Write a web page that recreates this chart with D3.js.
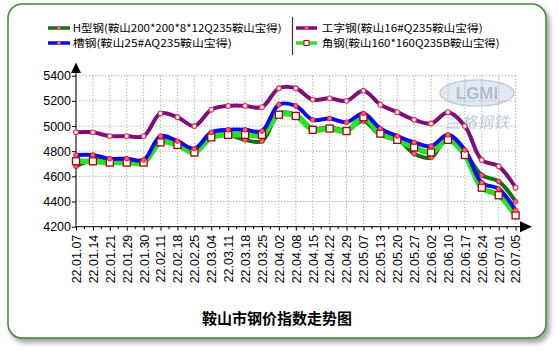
<!DOCTYPE html>
<html>
<head>
<meta charset="utf-8">
<script src="https://cdn.jsdelivr.net/npm/d3@7"></script>
<style>
  body { margin: 0; background: #fff; }
  svg { display: block; }
</style>
</head>
<body>
<svg id="chart"></svg>
<script>
let dates = ["22.01.07","22.01.14","22.01.21","22.01.29","22.01.30","22.02.11","22.02.18","22.02.25",
    "22.03.04","22.03.11","22.03.18","22.03.25","22.04.02","22.04.08","22.04.15","22.04.22","22.04.29",
    "22.05.07","22.05.13","22.05.20","22.05.27","22.06.02","22.06.10","22.06.17","22.06.24","22.07.01","22.07.05"];

// 工字钢
let iBeam = [4950,4950,4920,4920,4920,5100,5070,5000,5130,5160,5160,5150,5300,5300,5210,5220,5200,5280,5170,5110,5050,5020,5110,5000,4730,4680,4510];
// H型钢
let hBeam = [4680,4730,4720,4720,4720,4900,4860,4800,4930,4930,4890,4880,5100,5090,4980,4990,4970,5040,4930,4900,4780,4750,4910,4790,4610,4560,4400];
// 角钢
let angle = [4720,4720,4710,4710,4710,4870,4850,4790,4910,4930,4930,4930,5090,5080,4970,4980,4960,5070,4940,4890,4830,4790,4890,4770,4510,4450,4290];
// 槽钢
let channel = [4770,4770,4740,4740,4730,4920,4880,4820,4950,4970,4970,4960,5170,5160,5050,5060,5030,5100,4980,4920,4870,4840,4930,4810,4550,4500,4330];

let yTicks = [4200,4400,4600,4800,5000,5200,5400];

let w = 558, h = 351;
let svg = d3.select("#chart").attr("width", w).attr("height", h);

let cjk = "'Noto Sans CJK SC', 'Noto Sans', sans-serif";
let latin = "'Liberation Sans', Arial, sans-serif";

// outer frame with shadow
let defs = svg.append("defs");
let f = defs.append("filter").attr("id", "shadow").attr("x", "-5%").attr("y", "-5%").attr("width", "115%").attr("height", "115%");
f.append("feDropShadow").attr("dx", 3).attr("dy", 4).attr("stdDeviation", 2.5)
    .attr("flood-color", "#777").attr("flood-opacity", 0.7);

svg.append("rect")
    .attr("x", 8).attr("y", 4).attr("width", 538).attr("height", 334)
    .attr("rx", 14).attr("ry", 14)
    .attr("fill", "#fff").attr("stroke", "#3d8a34").attr("stroke-width", 1.5)
    .attr("filter", "url(#shadow)");

let x = d3.scalePoint().domain(dates).range([76, 515.6]);
let y = d3.scaleLinear().domain([4200, 5400]).range([226.7, 75.7]);

// watermark
let wm = svg.append("g").attr("opacity", 0.55);
wm.append("ellipse").attr("cx", 477).attr("cy", 93).attr("rx", 37).attr("ry", 13)
    .attr("fill", "#c9d6e8").attr("stroke", "#8fa6c8").attr("stroke-width", 1.5);
wm.append("text").attr("x", 477).attr("y", 99).attr("text-anchor", "middle")
    .attr("font-family", latin).attr("font-weight", "bold").attr("font-size", 17)
    .attr("fill", "#7088ab").text("LGMI");
wm.append("text").attr("x", 477).attr("y", 128).attr("text-anchor", "middle")
    .attr("font-family", cjk).attr("font-size", 16).attr("font-style", "italic")
    .attr("fill", "#8aa0c0").text("兰格钢铁");

// grid
let grid = svg.append("g").attr("stroke", "#a8a8a8").attr("stroke-dasharray", "1.2,2").attr("stroke-width", 1);
grid.selectAll(".v").data(dates).enter().append("line")
    .attr("x1", d => x(d)).attr("x2", d => x(d))
    .attr("y1", y(5400)).attr("y2", y(4200));
grid.selectAll(".hz").data(yTicks).enter().append("line")
    .attr("x1", x.range()[0]).attr("x2", x.range()[1])
    .attr("y1", d => y(d)).attr("y2", d => y(d));

// axes
let yAxis = svg.append("g").attr("transform", "translate(76,0)")
    .call(d3.axisLeft(y).tickValues(yTicks).tickSize(4).tickPadding(1).tickFormat(d3.format("d")));
yAxis.select(".domain").remove();
yAxis.selectAll("text").attr("font-family", latin).attr("font-size", 12.5).attr("fill", "#000");

let xAxis = svg.append("g").attr("transform", "translate(0," + y(4200) + ")")
    .call(d3.axisBottom(x).tickSize(4));
xAxis.select(".domain").remove();
xAxis.selectAll("text")
    .attr("transform", "rotate(-90)")
    .attr("x", -8).attr("y", 0).attr("dy", "0.35em")
    .attr("text-anchor", "end")
    .attr("font-family", latin).attr("font-size", 12.5).attr("fill", "#000");

// minor ticks between dates
let mids = dates.slice(1).map((d, i) => (x(d) + x(dates[i])) / 2);
svg.append("g").selectAll("line").data(mids).enter().append("line")
    .attr("x1", d => d).attr("x2", d => d)
    .attr("y1", y(4200)).attr("y2", y(4200) + 2.5)
    .attr("stroke", "#000");

// axis lines with arrows
svg.append("line").attr("x1", 76).attr("x2", 76).attr("y1", y(4200) + 0.5).attr("y2", 72).attr("stroke", "#000");
svg.append("path").attr("d", "M76,62.5 L71,73 L81,73 Z").attr("fill", "#000");
svg.append("line").attr("x1", 76).attr("x2", 522).attr("y1", y(4200)).attr("y2", y(4200)).attr("stroke", "#000");
svg.append("path").attr("d", "M532," + y(4200) + " L520," + (y(4200) - 5.5) + " L520," + (y(4200) + 5.5) + " Z").attr("fill", "#000");

// lines
let line = d3.line()
    .x((d, i) => x(dates[i]))
    .y(d => y(d))
    .curve(d3.curveCatmullRom.alpha(0.5));

let series = [
    { name: "工字钢(鞍山16#Q235鞍山宝得)", values: iBeam, color: "#7c0f7c", width: 4, marker: "ring" },
    { name: "H型钢(鞍山200*200*8*12Q235鞍山宝得)", values: hBeam, color: "#137313", width: 4, marker: "dot" },
    { name: "角钢(鞍山160*160Q235B鞍山宝得)", values: angle, color: "#22e622", width: 5.5, marker: "square" },
    { name: "槽钢(鞍山25#AQ235鞍山宝得)", values: channel, color: "#0a0aee", width: 4, marker: "dot" }
];

series.forEach(s => {
    svg.append("path")
        .attr("d", line(s.values))
        .attr("fill", "none")
        .attr("stroke", s.color)
        .attr("stroke-width", s.width)
        .attr("stroke-linejoin", "round");
});

function drawMarker(g, type, cx, cy) {
    if (type === "square") {
        g.append("rect").attr("x", cx - 3.5).attr("y", cy - 3.5).attr("width", 7).attr("height", 7)
            .attr("fill", "#fff").attr("stroke", "#a80000").attr("stroke-width", 1.3);
    } else if (type === "ring") {
        g.append("circle").attr("cx", cx).attr("cy", cy).attr("r", 2.4)
            .attr("fill", "#ffe8f0").attr("stroke", "#e0304a").attr("stroke-width", 1.1);
    } else {
        g.append("circle").attr("cx", cx).attr("cy", cy).attr("r", 2.4)
            .attr("fill", "#ff5a6e").attr("stroke", "#d01030").attr("stroke-width", 0.8);
    }
}

let markers = svg.append("g");
series.forEach(s => {
    s.values.forEach((v, i) => drawMarker(markers, s.marker, x(dates[i]), y(v)));
});

// legend
let legendItems = [
    { s: series[1], lx: 48, tx: 72.7, ty: 28, len: 209 },
    { s: series[3], lx: 48, tx: 72.7, ty: 43, len: 159 },
    { s: series[0], lx: 296, tx: 321.7, ty: 28, len: 161 },
    { s: series[2], lx: 296, tx: 321.7, ty: 43, len: 178 }
];
let legend = svg.append("g");
legendItems.forEach(it => {
    let lw = it.lx === 48 ? 22 : 21;
    legend.append("line")
        .attr("x1", it.lx).attr("x2", it.lx + lw)
        .attr("y1", it.ty).attr("y2", it.ty)
        .attr("stroke", it.s.color).attr("stroke-width", 3.5);
    let mx = it.lx + lw / 2;
    if (it.s.marker === "square") {
        legend.append("rect").attr("x", mx - 2.5).attr("y", it.ty - 2.5).attr("width", 5).attr("height", 5)
            .attr("fill", "#fff").attr("stroke", "#a80000").attr("stroke-width", 1);
    } else {
        legend.append("circle").attr("cx", mx).attr("cy", it.ty).attr("r", 1.8)
            .attr("fill", "#ff7080").attr("stroke", "#e03040").attr("stroke-width", 0.6);
    }
    legend.append("text")
        .attr("x", it.tx).attr("y", it.ty + 4)
        .attr("font-family", cjk).attr("font-size", 10.5)
        .attr("textLength", it.len).attr("lengthAdjust", "spacingAndGlyphs")
        .attr("fill", "#000")
        .text(it.s.name);
});
legend.append("line").attr("x1", 292.5).attr("x2", 292.5).attr("y1", 17).attr("y2", 55)
    .attr("stroke", "#333").attr("stroke-width", 1.2);

// title
svg.append("text")
    .attr("x", 277).attr("y", 323.5)
    .attr("text-anchor", "middle")
    .attr("font-family", cjk).attr("font-weight", "bold").attr("font-size", 15)
    .attr("fill", "#000")
    .text("鞍山市钢价指数走势图");
</script>
</body>
</html>
